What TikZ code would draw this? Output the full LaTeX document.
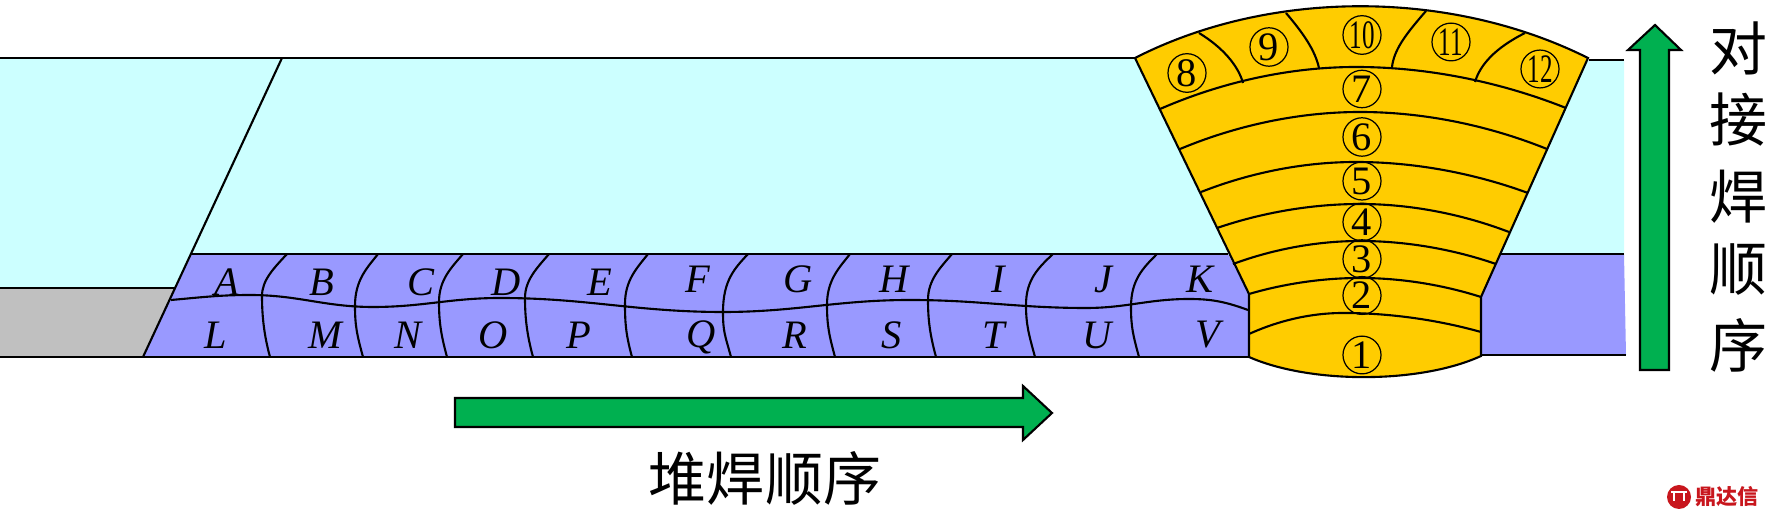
\documentclass[tikz,border=0pt]{standalone}
\usepackage{fontspec}
\setmainfont{Liberation Serif}
\newfontfamily\cjkfont{Noto Sans CJK SC}
\usetikzlibrary{calc, positioning, shapes}
\definecolor{plateblue}{HTML}{CCFFFF}
\definecolor{cladblue}{HTML}{9999FF}
\definecolor{weldgold}{HTML}{FFCC00}
\definecolor{backing}{HTML}{C0C0C0}
\definecolor{arrowgreen}{HTML}{00B050}
\definecolor{markred}{HTML}{C8161D}
\tikzstyle{seam}=[black,line width=0.6pt]
\tikzstyle{bead}=[ellipse,draw=black,line width=0.35pt,minimum width=0.38cm,minimum height=0.36cm,inner sep=0pt,font=\fontsize{11.5}{11.5}\selectfont]
\tikzstyle{pass}=[inner sep=0pt,font=\fontsize{11.5}{11.5}\selectfont\itshape]
\tikzstyle{order arrow}=[fill=arrowgreen,draw=black,line width=0.6pt]
\tikzstyle{caption}=[inner sep=0pt,font=\cjkfont\fontsize{16.5}{16.5}\selectfont]
\tikzstyle{brand}=[inner sep=0pt,text=markred,font=\cjkfont\bfseries\fontsize{6}{6}\selectfont]

\begin{document}
\begin{tikzpicture}[x=0.01cm,y=-0.01cm]
		\useasboundingbox (0,0) rectangle (1769,519);
		% plates
		\fill[plateblue] (0,58) -- (1135,58) -- (1228,254) -- (191,254) -- (175,288) -- (0,288) -- cycle;
		\fill[plateblue] (1560,60) -- (1624,60) -- (1624,254) -- (1499,254) -- cycle;
		\fill[backing] (0,288) -- (175,288) -- (143,357) -- (0,357) -- cycle;
		\fill[cladblue] (191,254) -- (1228,254) -- (1249,294) -- (1249,357) -- (143,357) -- cycle;
		\fill[cladblue] (1499,254) -- (1624,254) -- (1626,355) -- (1481,355) -- (1481,297) -- cycle;
		\draw[seam] (0,58) -- (1135,58);
		\draw[seam] (1589,60) -- (1624,60);
		\draw[seam] (282,58) -- (143,357);
		\draw[seam] (0,288) -- (175,288);
		\draw[seam] (0,357) -- (1249,357);
		\draw[seam] (191,254) -- (1228,254);
		\draw[seam] (1499,254) -- (1624,254);
		\draw[seam] (1481,355) -- (1626,355);
		% overlay passes
		\draw[seam] (171,300) to[out=5,in=180] (250,295) to[out=0,in=180] (373,307) to[out=0,in=180] (500,298) to[out=0,in=180] (723,312) to[out=0,in=180] (910,300) to[out=0,in=180] (1086,308) to[out=0,in=180] (1189,299) to[out=0,in=160] (1248,310);
		\foreach \ta/\wa/\wb/\ba in {287/262/296/270, 378/355/306/363, 463/439/302/447, 549/525/298/533, 648/625/304/632, 748/723/312/731, 850/827/305/835, 952/928/300/936, 1053/1026/305/1035, 1157/1131/307/1139}
			\draw[seam] (\ta,254) .. controls (\wa+12,268) and (\wa,280) .. (\wa,\wb) .. controls (\wa,\wb+20) and (\ba-6,335) .. (\ba,357);
		\foreach \lab/\x/\y in {A/227/282, B/322/282, C/421/282, D/506/282, E/600/282, F/698/279, G/798/279, H/894/279, I/998/279, J/1103/279, K/1200/279, L/216/335, M/325/335, N/408/335, O/493/335, P/579/335, Q/701/337, R/795/335, S/892/335, T/994/335, U/1097/335, V/1208/335}
			\node[pass] (P-\lab) at (\x,\y) {\lab};
		% butt weld
		\draw[seam,fill=weldgold] (1135,58) .. controls (1270,-11) and (1450,-11) .. (1588,58) -- (1481,297) -- (1481,356) .. controls (1420,384) and (1310,384) .. (1249,357) -- (1249,294) -- cycle;
		\foreach \xa/\ya/\xm/\ym/\xb/\yb in {1249/334/1343/313/1481/332, 1249/294/1360/278/1481/297, 1233/264/1360/241/1496/264, 1217/228/1360/204/1509/232, 1201/192/1356/162/1528/193, 1180/149/1360/112/1547/149, 1160/109/1356/67/1566/108}
			\draw[seam] (\xa,\ya) parabola bend (\xm,\ym) (\xb,\yb);
		\draw[seam] (1199,33) .. controls (1222,47) and (1238,65) .. (1243,83);
		\draw[seam] (1286,13) .. controls (1303,33) and (1315,50) .. (1319,68);
		\draw[seam] (1426,11) .. controls (1405,35) and (1394,50) .. (1392,67);
		\draw[seam] (1525,33) .. controls (1495,48) and (1480,65) .. (1475,82);
		\foreach \n/\x/\y in {1/1362/355, 2/1362/295.5, 3/1362/259, 4/1362/222, 5/1362/181, 6/1362/137, 7/1362/89, 8/1187/73, 9/1269/47}
			\node[bead] (B-\n) at (\x,\y) {\n};
		\foreach \n/\x/\y in {10/1362/35, 11/1451/42, 12/1540/69}
			\node[bead] (B-\n) at (\x,\y) {\scalebox{0.62}[1]{\n}};
		% order arrows
		\draw[order arrow] (455,398) -- (1023,398) -- (1023,386) -- (1052,413) -- (1023,440) -- (1023,427) -- (455,427) -- cycle;
		\draw[order arrow] (1640,370) -- (1640,50) -- (1628,50) -- (1655,25) -- (1681,50) -- (1669,50) -- (1669,370) -- cycle;
		\node[caption] (overlay order) at (765,478) {堆焊顺序};
		\foreach \c/\y in {对/48, 接/120, 焊/197, 顺/270, 序/345}
			\node[caption] (butt-\c) at (1738,\y) {\c};
		% mark
		\fill[markred] (1679,497) circle (12);
		\draw[white,line width=0.4pt] (1671,492) -- (1687,492) (1674,492) -- (1674,501) (1684,492) -- (1684,501);
		\node[brand] (mark) at (1727,497) {鼎达信};
	\end{tikzpicture}
\end{document}
